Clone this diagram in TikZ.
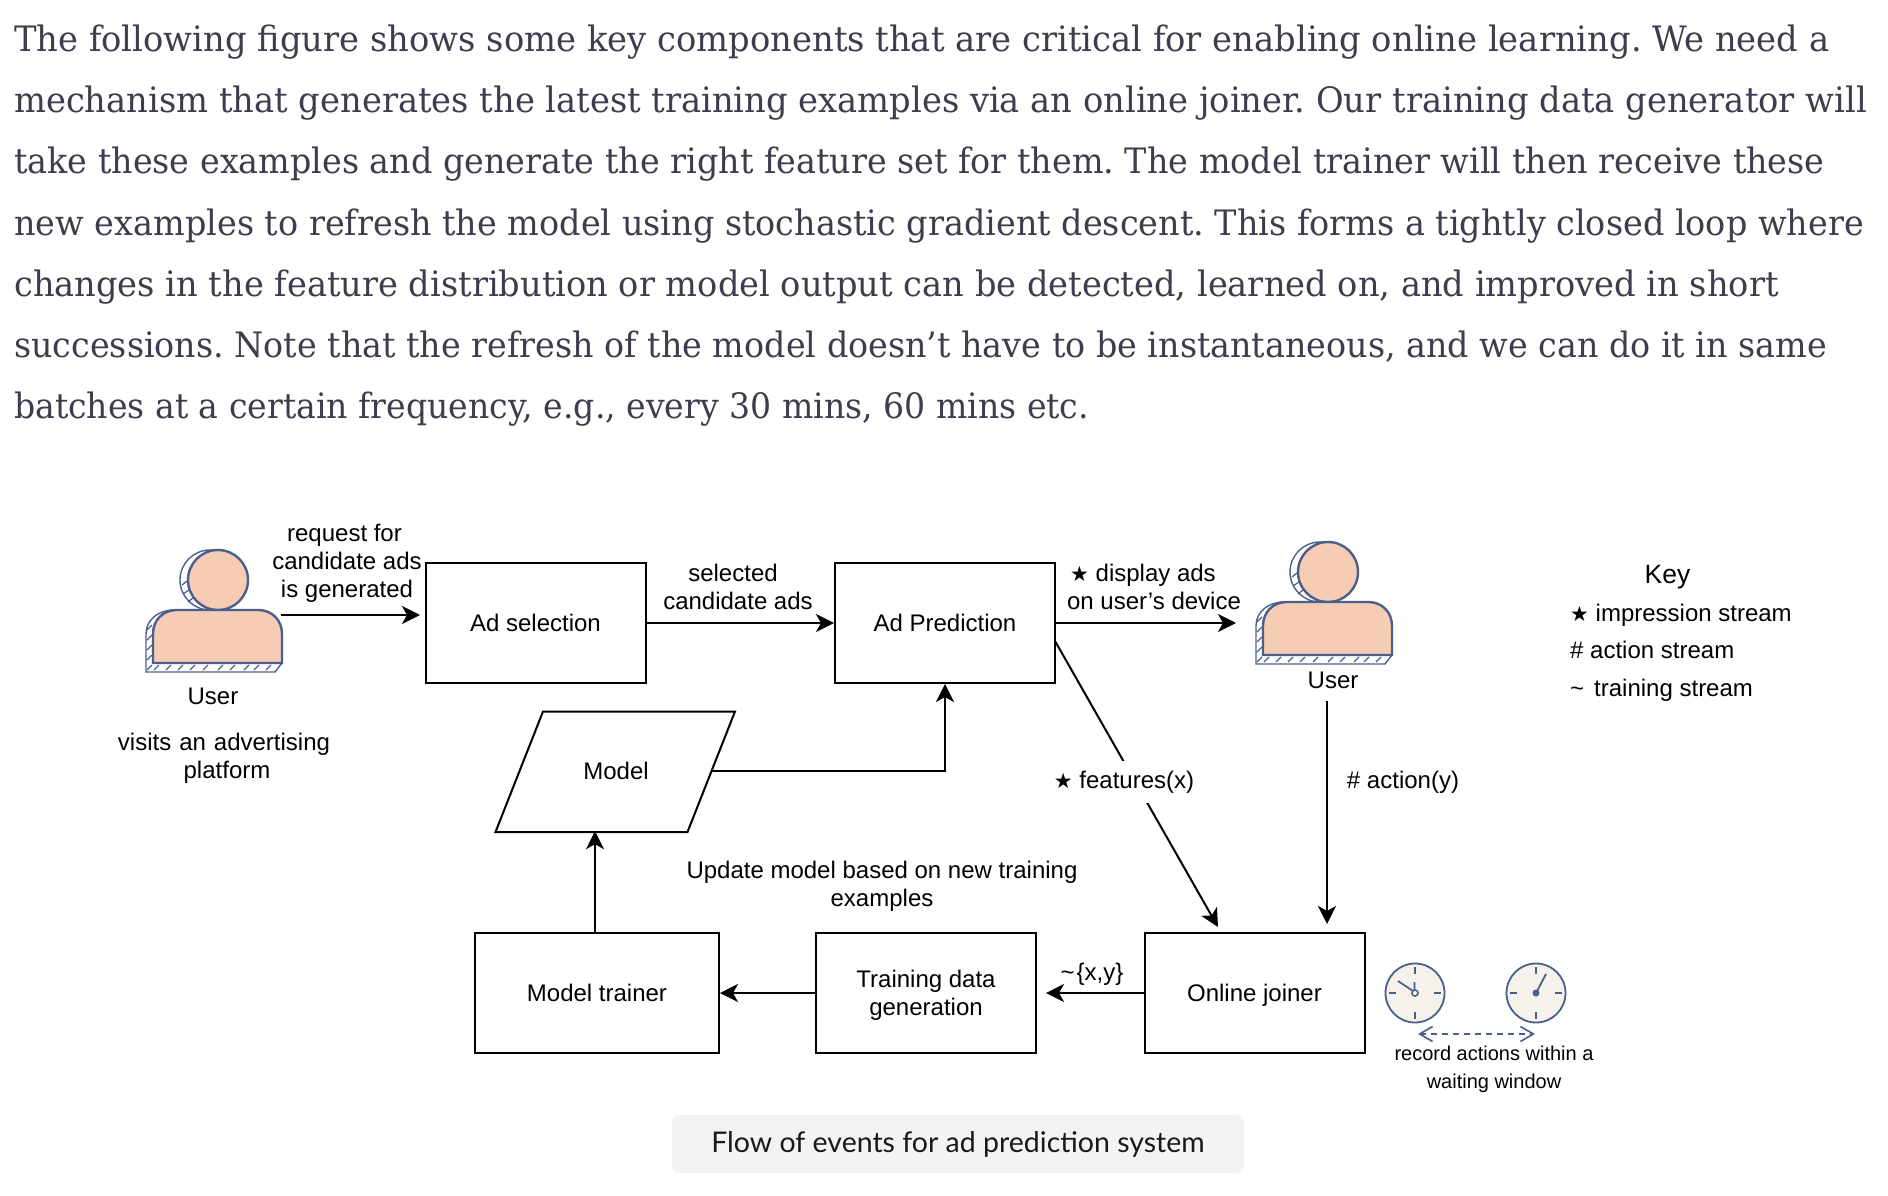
\documentclass[tikz,border=0pt]{standalone}
\usepackage{graphicx}
\usepackage{fontspec}
\usetikzlibrary{arrows.meta}
\setmainfont{Liberation Sans}
\newfontfamily\bodyf[FakeStretch=0.962]{DejaVu Serif}
\newfontfamily\capf{Lato}
\newfontfamily\symf{DejaVu Sans}
\definecolor{bodytext}{HTML}{3D3D4E}
\definecolor{inkblue}{HTML}{4A5F8C}
\definecolor{skin}{HTML}{F6CDB4}
\definecolor{clockface}{HTML}{F7F1EC}
\definecolor{capfill}{HTML}{F3F3F3}
\newcommand{\fsz}[1]{\fontsize{#1}{28}\selectfont}
\newcommand{\bigstar}{{\symf\fontsize{21}{28}\selectfont ★}}
\newcommand{\fitline}[2]{\scalebox{#1}[1]{#2}}
\tikzset{
  x=1pt,y=-1pt,
  txtline/.style={anchor=base west,inner sep=0pt,font=\frenchspacing\bodyf\fontsize{35}{40}\selectfont,text=bodytext},
  boxn/.style={draw=black,line width=2pt,minimum width=220pt,minimum height=120pt,inner sep=0pt,align=center,text depth=0pt,font=\fsz{24}},
  lbl/.style={inner sep=0pt,align=center,font=\fsz{24}},
  keyl/.style={inner sep=0pt,anchor=base west,font=\fsz{24}},
  arr/.style={draw=black,line width=2pt,-{Stealth[length=18pt,width=18pt,inset=5pt]}},
  pics/userfig/.style={code={
    \draw[inkblue,line width=1.4pt,fill=white] (-8,0) circle[radius=30];
    \draw[inkblue,line width=1.2pt] (-36,5)--(-31,1) (-35,14)--(-29,10) (-30,22)--(-25,18);
    \draw[inkblue,line width=1.4pt,fill=white] (-72,92)--(-72,54) .. controls (-72,40) and (-60,30) .. (-44,30) -- (0,30) -- (0,83) -- (64,83) -- (57,92) -- cycle;
    \foreach \a in {-64,-52,-40,-28,-15,0,12,26,36,48}{\draw[inkblue,line width=1.1pt] (\a,90)--(\a+5,85);}
    \foreach \b in {50,60,70,80,90}{\draw[inkblue,line width=1.1pt] (-71,\b)--(-66,\b-5);}
    \draw[inkblue,line width=2.4pt,fill=skin] (0,0) circle[radius=30];
    \draw[inkblue,line width=2.4pt,fill=skin] (-65,83)--(-65,54) .. controls (-65,40) and (-55,30) .. (-41,30) -- (40,30) .. controls (54,30) and (64,40) .. (64,54) -- (64,83) -- cycle;
  }},
  pics/clockfig/.style={code={
    \draw[inkblue,line width=1.8pt,fill=clockface] (0,0) circle[radius=29.5];
    \draw[inkblue,line width=1.6pt] (0,-26)--(0,-19) (0,26)--(0,19) (-26,0)--(-19,0) (26,0)--(19,0);
  }}
}
\begin{document}
\begin{tikzpicture}
\useasboundingbox (0,0) rectangle (1888,1196);
\fill[white] (0,0) rectangle (1888,1196);
% paragraph
\node[txtline] (p1) at (14,52) {\fitline{1.0027}{The following figure shows some key components that are critical for enabling online learning. We need a}};
\node[txtline] (p2) at (14,113) {\fitline{1.0013}{mechanism that generates the latest training examples via an online joiner. Our training data generator will}};
\node[txtline] (p3) at (14,174) {\fitline{0.9914}{take these examples and generate the right feature set for them. The model trainer will then receive these}};
\node[txtline] (p4) at (14,235) {\fitline{0.9935}{new examples to refresh the model using stochastic gradient descent. This forms a tightly closed loop where}};
\node[txtline] (p5) at (14,296) {\fitline{0.999}{changes in the feature distribution or model output can be detected, learned on, and improved in short}};
\node[txtline] (p6) at (14,357) {\fitline{0.9908}{successions. Note that the refresh of the model doesn’t have to be instantaneous, and we can do it in same}};
\node[txtline] (p7) at (14,418) {\fitline{0.9834}{batches at a certain frequency, e.g., every 30 mins, 60 mins etc.}};
% boxes
\node[boxn] (adsel) at (535.5,623) {Ad selection};
\node[boxn] (adpred) at (945,623) {Ad Prediction};
\node[boxn,minimum width=244pt] (trainer) at (597,993) {Model trainer};
\node[boxn] (gen) at (926,993) {Training data\\generation};
\node[boxn] (joiner) at (1254.5,993) {Online joiner};
\node[lbl,minimum width=192pt,minimum height=120pt] (model) at (616,771) {\raisebox{1pt}{Model}};
\draw[black,line width=2pt,line join=miter] (543,711.5)--(735,711.5)--(687.5,832)--(495.5,832)--cycle;
% users
\pic at (218,580) {userfig};
\pic at (1328,572) {userfig};
\node[lbl] (user1) at (213,696) {User};
\node[lbl,text width=260pt] (visits) at (224,758.5) {visits an advertising\\\hspace*{6pt}platform};
\node[lbl] (user2) at (1333,680) {User};
\coordinate (u1out) at (281,615);
\coordinate (u1end) at (420,615);
\coordinate (u2in) at (1236,623);
\coordinate (u2out) at (1327,701);
\coordinate (joinin) at (1327,924);
\coordinate (predout) at (1055,641);
\coordinate (joinin2) at (1218,927);
% connectors
\draw[arr] (u1out) -- (u1end);
\draw[arr] (adsel.east) -- (adpred.west);
\draw[arr] (adpred.east) -- (u2in);
\draw[arr] (predout) -- (joinin2);
\draw[arr] (u2out) -- (joinin);
\draw[arr] (model.east) -| (adpred.south);
\draw[arr] ([xshift=-2pt]trainer.north) -- ([xshift=-2pt]trainer.north |- model.south);
\draw[arr] (gen.west) -- (trainer.east);
\draw[arr,shorten >=9pt] (joiner.west) -- (gen.east);
% labels
\node[lbl] (lreq) at (347,563) {request for\hspace*{5pt}\\candidate ads\\is generated};
\node[lbl] (lsel) at (738,587) {selected\hspace*{10pt}\\candidate ads};
\node[lbl] (ldisp) at (1154,587) {\bigstar\ display ads\hspace*{22pt}\\on user{\char"27}s device};
\node[lbl,fill=white,inner xsep=6pt,inner ysep=10pt] (lfeat) at (1124,782) {\bigstar\ features(x)};
\node[lbl] (lact) at (1403,782) {\# action(y)};
\node[lbl] (lupd) at (882,886) {Update model based on new training\\examples};
\node[lbl] (lxy) at (1092,974) {\textasciitilde\hspace{2pt}\{x,y\}};
% clocks
\pic at (1415,993) {clockfig};
\pic at (1536,993) {clockfig};
\draw[inkblue,line width=1.8pt] (1398,981)--(1413,991) (1414.5,982)--(1414.5,990);
\draw[inkblue,line width=1.6pt,fill=white] (1415,993) circle[radius=3];
\draw[inkblue,line width=1.8pt] (1536,993)--(1546,974);
\fill[inkblue] (1536,993) circle[radius=3.5];
\coordinate (wa) at (1418,1034);
\coordinate (wb) at (1535,1034);
\draw[inkblue,line width=1.6pt,dashed,dash pattern=on 6pt off 5pt,{Straight Barb[length=13pt,width=15pt]}-{Straight Barb[length=13pt,width=15pt]}] (wa) -- (wb);
\node[inner sep=0pt,align=center,font=\fontsize{20}{28}\selectfont] (lwin) at (1494,1069) {record actions within a\\waiting window};
% key
\node[inner sep=0pt,font=\fsz{26.5}] (keyt) at (1667.5,577.5) {Key};
\node[keyl] (k1) at (1570,621) {\bigstar\ impression stream};
\node[keyl] (k2) at (1570,658) {\# action stream};
\node[keyl] (k3) at (1570,696) {\textasciitilde\hspace{10pt}training stream};
% caption
\node[fill=capfill,rounded corners=8pt,minimum width=572pt,minimum height=58pt,inner sep=0pt,font=\capf\fontsize{28.5}{32}\selectfont,text=black!90] (cap) at (958,1144) {Flow of events for ad prediction system};
\end{tikzpicture}
\end{document}
